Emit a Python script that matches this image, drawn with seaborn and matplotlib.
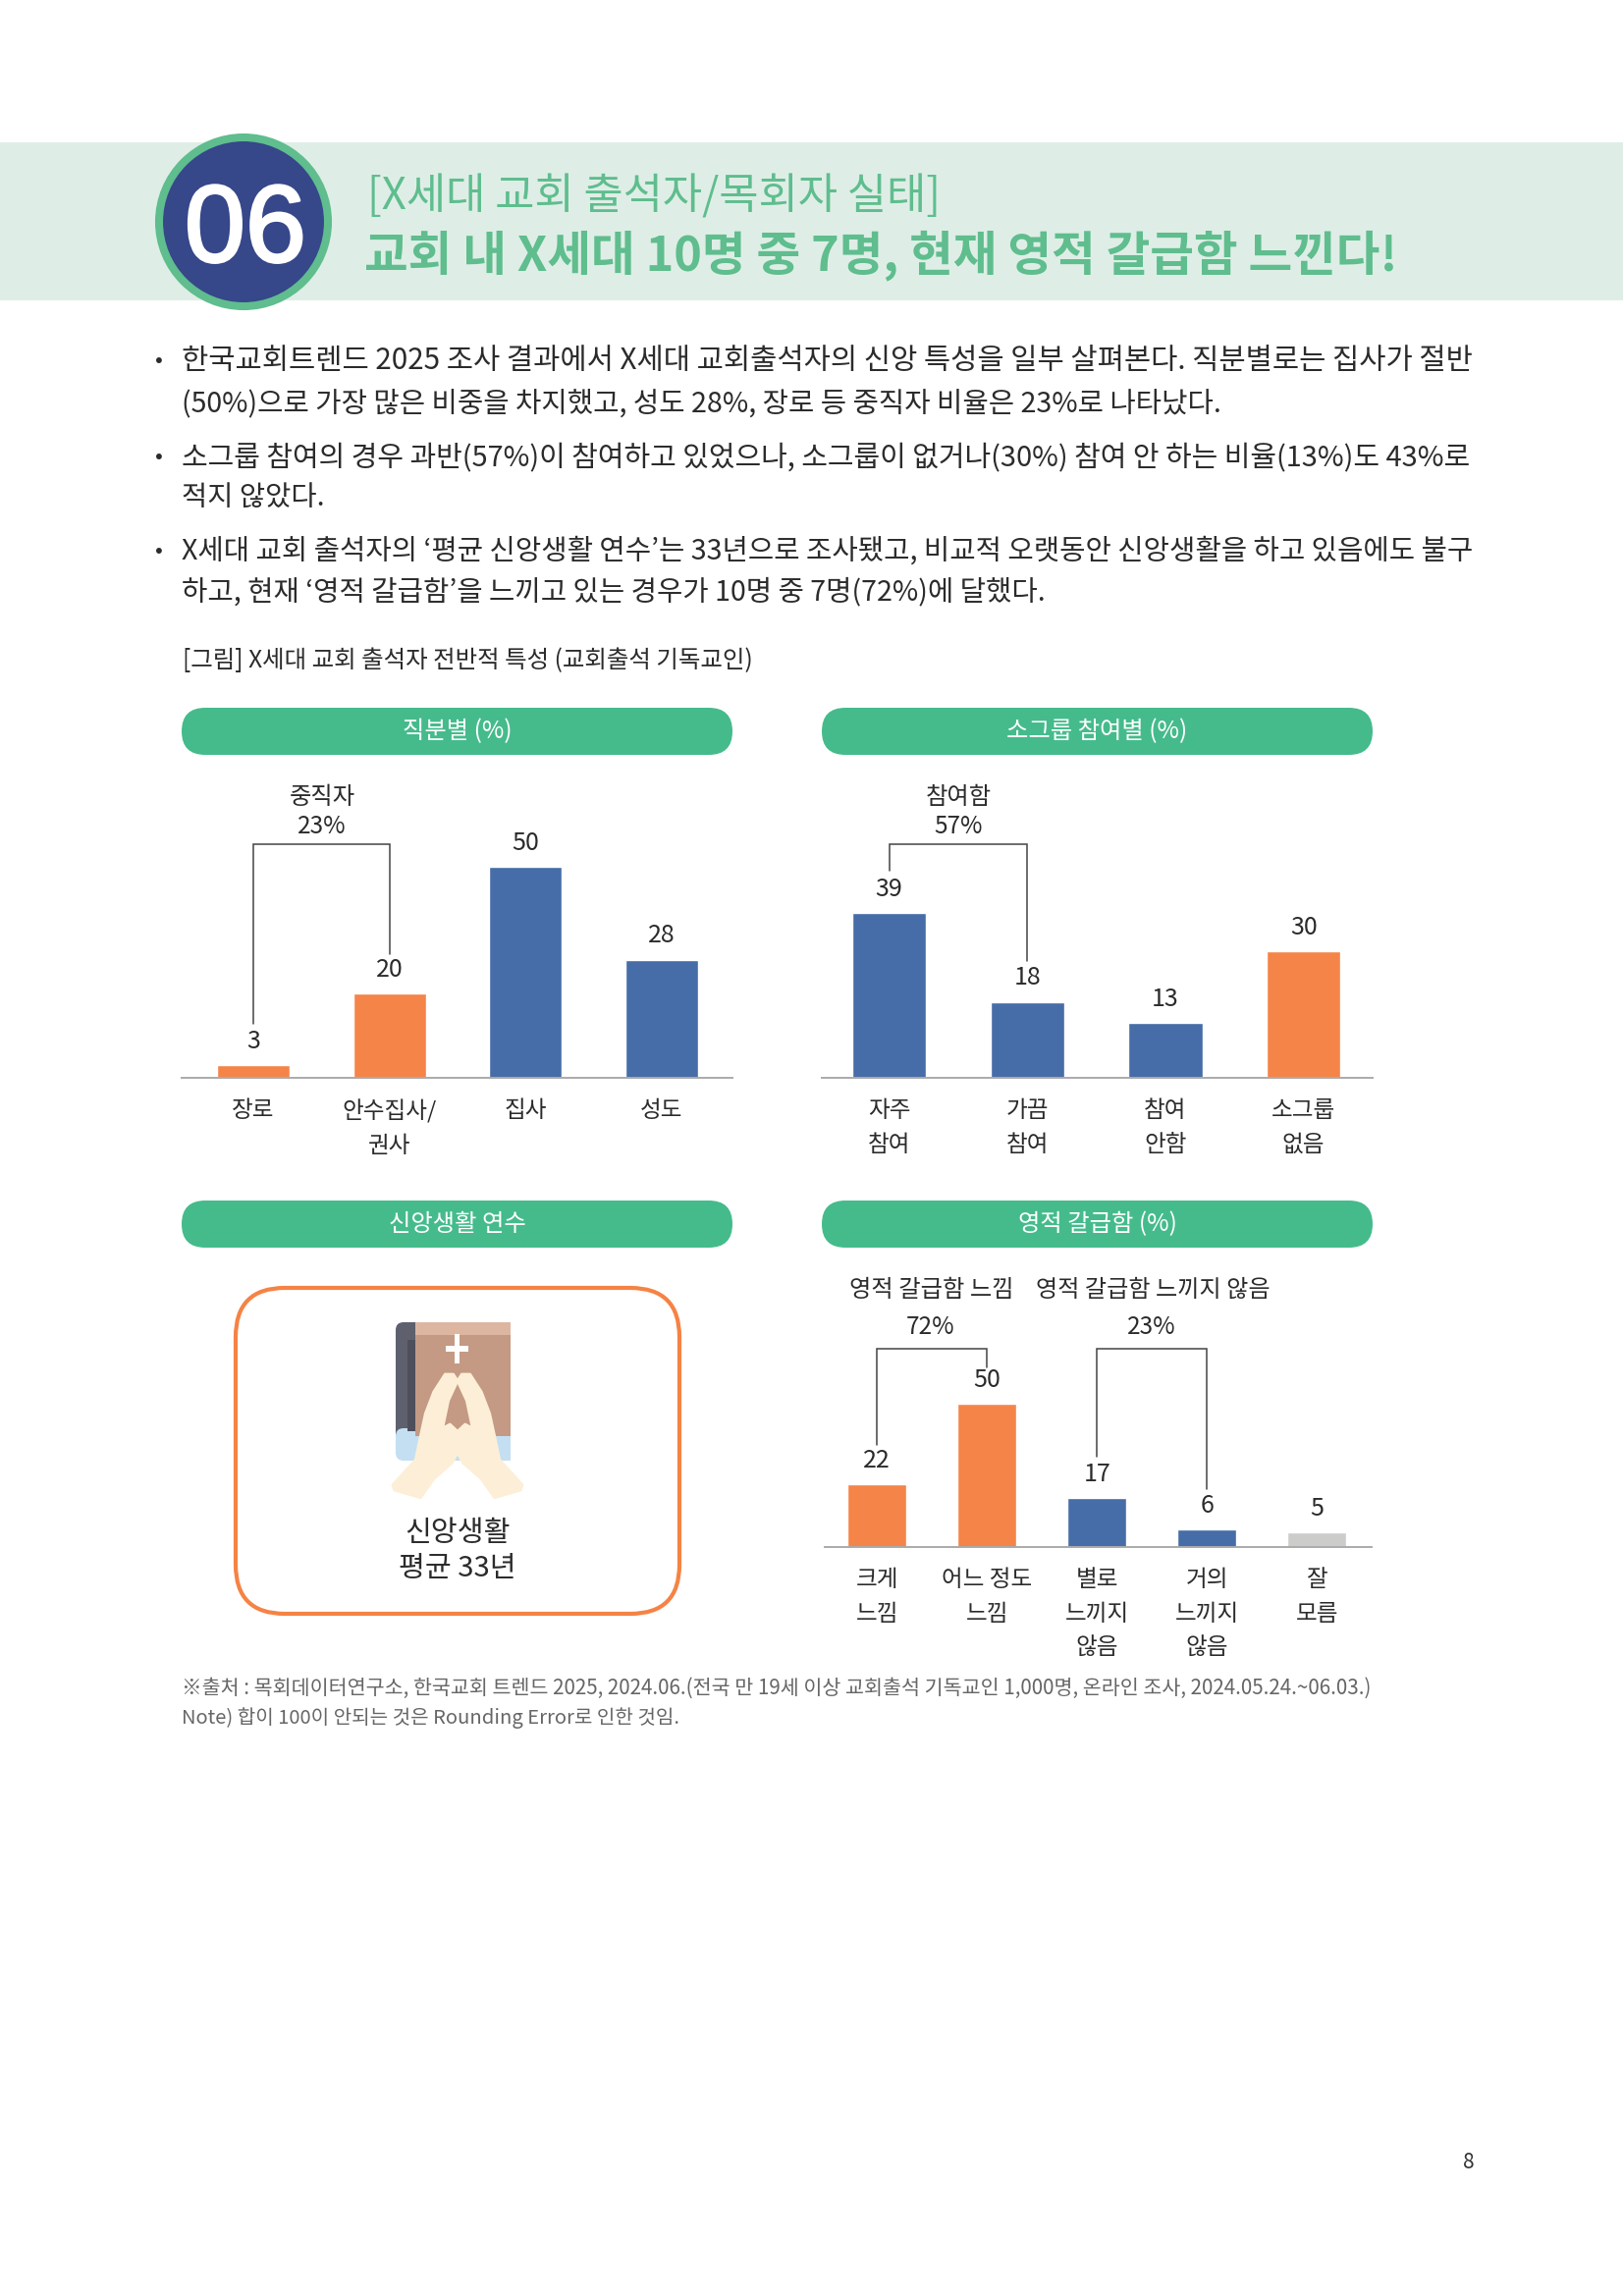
import matplotlib

matplotlib.use("Agg")
import matplotlib.patheffects as pe
import matplotlib.pyplot as plt
import seaborn as sns
from matplotlib.patches import Circle, FancyBboxPatch, Polygon, Rectangle

W, H = 1653, 2339

# ---- data ----
duty_labels = ["장로", "안수집사/\n권사", "집사", "성도"]
duty_values = [3, 20, 50, 28]
duty_colors = ["#F58449", "#F58449", "#466DA7", "#466DA7"]

group_labels = ["자주\n참여", "가끔\n참여", "참여\n안함", "소그룹\n없음"]
group_values = [39, 18, 13, 30]
group_colors = ["#466DA7", "#466DA7", "#466DA7", "#F58449"]

thirst_labels = ["크게\n느낌", "어느 정도\n느낌", "별로\n느끼지\n않음", "거의\n느끼지\n않음", "잘\n모름"]
thirst_values = [22, 50, 17, 6, 5]
thirst_colors = ["#F58449", "#F58449", "#466DA7", "#466DA7", "#CCCCCA"]

body_lines = [
    "한국교회트렌드 2025 조사 결과에서 X세대 교회출석자의 신앙 특성을 일부 살펴본다. 직분별로는 집사가 절반",
    "(50%)으로 가장 많은 비중을 차지했고, 성도 28%, 장로 등 중직자 비율은 23%로 나타났다.",
    "소그룹 참여의 경우 과반(57%)이 참여하고 있었으나, 소그룹이 없거나(30%) 참여 안 하는 비율(13%)도 43%로",
    "적지 않았다.",
    "X세대 교회 출석자의 ‘평균 신앙생활 연수’는 33년으로 조사됐고, 비교적 오랫동안 신앙생활을 하고 있음에도 불구",
    "하고, 현재 ‘영적 갈급함’을 느끼고 있는 경우가 10명 중 7명(72%)에 달했다.",
]
body_right = [1498, 1243, 1498, 330, 1498, 1064]
body_y = [368, 411, 466, 507, 562, 603]

sns.set_theme(style="white")
plt.rcParams["font.family"] = ["Noto Sans CJK KR", "DejaVu Sans"]

INK = "#2B2B2B"
GREEN = "#45BB8C"
HEAD_GREEN = "#5FBD8E"
LINE = "#444444"

fig = plt.figure(figsize=(W / 100, H / 100), dpi=100, facecolor="white")
page = fig.add_axes([0, 0, 1, 1])
page.set_xlim(0, W)
page.set_ylim(H, 0)
page.axis("off")
renderer = fig.canvas.get_renderer()


def fit_text(x0, x1, y, s, **kw):
    # font size is chosen so the line spans x0..x1 like in the page
    t = page.text(x0, y, s, ha="left", va="center", fontsize=20, **kw)
    w = t.get_window_extent(renderer).width
    t.set_fontsize(20 * (x1 - x0) / w)
    return t


def pill(x0, x1, y0, y1, label):
    r = (y1 - y0) / 2
    page.add_patch(FancyBboxPatch((x0 + r, y0 + r), x1 - x0 - 2 * r, 0,
                                  boxstyle=f"round,pad={r},rounding_size={r}",
                                  fc=GREEN, ec="none"))
    page.text((x0 + x1) / 2, (y0 + y1) / 2, label, color="white", fontsize=17.5,
              ha="center", va="center")


def bar_panel(left, right, base_y, px_per_unit, vmax, first_x, step, labels, values, colors, width):
    top = base_y - vmax * px_per_unit
    ax = fig.add_axes([left / W, 1 - base_y / H, (right - left) / W, (base_y - top) / H])
    ax.patch.set_alpha(0)
    sns.barplot(x=labels, y=values, hue=labels, palette=colors, legend=False,
                width=width, saturation=1, ax=ax)
    ax.set_xlim((left - first_x) / step, (right - first_x) / step)
    ax.set_ylim(0, vmax)
    for c in ax.containers:
        ax.bar_label(c, fmt="%d", padding=8, fontsize=18, color=INK)
    sns.despine(ax=ax, left=True)
    ax.spines["bottom"].set_color("#AAAAAA")
    ax.spines["bottom"].set_linewidth(1.4)
    ax.set_yticks([])
    ax.set_xlabel("")
    ax.set_ylabel("")
    ax.tick_params(axis="x", length=0, pad=16, labelsize=17, labelcolor=INK)
    for tick in ax.get_xticklabels():
        tick.set_linespacing(1.64)
    return ax


def bracket(ax, i, j, low_i, low_j, top):
    ax.plot([i, i, j, j], [low_i, top, top, low_j], color=LINE, lw=1.1,
            clip_on=False, solid_joinstyle="miter")


# ---- header band ----
page.add_patch(Rectangle((0, 145), W, 161, fc="#DEEEE6", ec="none"))
page.add_patch(Circle((248, 226), 86, fc="#36478A", ec=HEAD_GREEN, lw=5.8))
t06 = page.text(250, 226, "06", color="white", family="Liberation Sans", fontsize=86,
                ha="center", va="center_baseline",
                path_effects=[pe.withStroke(linewidth=2, foreground="white")])
fit_text(374, 958, 201, "[X세대 교회 출석자/목회자 실태]", color=HEAD_GREEN)
fit_text(371, 1422, 260, "교회 내 X세대 10명 중 7명, 현재 영적 갈급함 느낀다!",
         color=HEAD_GREEN, fontweight="bold")

# ---- body text ----
for by in (368, 466, 562):
    page.text(162, by, "•", color=INK, fontsize=17, ha="center", va="center")
for line, rx, ly in zip(body_lines, body_right, body_y):
    fit_text(185, rx, ly, line, color=INK)

fit_text(186, 767, 673, "[그림] X세대 교회 출석자 전반적 특성 (교회출석 기독교인)", color=INK)

# ---- panel headers ----
pill(185, 746, 721, 769, "직분별 (%)")
pill(837, 1398, 721, 769, "소그룹 참여별 (%)")
pill(185, 746, 1223, 1271, "신앙생활 연수")
pill(837, 1398, 1223, 1271, "영적 갈급함 (%)")

# ---- duty ----
ax1 = bar_panel(185, 746, 1098, 4.3, 60, 258, 138.6, duty_labels, duty_values, duty_colors, 0.535)
bracket(ax1, 0, 1, 12.8, 29.3, 55.3)
page.text(328, 812, "중직자", color=INK, fontsize=17.5, ha="center", va="center")
page.text(328, 842, "23%", color=INK, fontsize=17.5, ha="center", va="center")

# ---- small group ----
ax2 = bar_panel(837, 1398, 1098, 4.3, 60, 905.6, 140.7, group_labels, group_values, group_colors, 0.535)
bracket(ax2, 0, 1, 49, 27.7, 55.3)
page.text(976, 812, "참여함", color=INK, fontsize=17.5, ha="center", va="center")
page.text(976, 842, "57%", color=INK, fontsize=17.5, ha="center", va="center")

# ---- thirst ----
ax4 = bar_panel(840, 1397, 1576, 2.92, 75, 893.2, 112, thirst_labels, thirst_values, thirst_colors, 0.535)
bracket(ax4, 0, 1, 35.6, 62.7, 69.2)
bracket(ax4, 2, 3, 31.5, 20.1, 69.2)
fit_text(865, 1032, 1314, "영적 갈급함 느낌", color=INK)
fit_text(1055, 1293, 1314, "영적 갈급함 느끼지 않음", color=INK)
page.text(948, 1352, "72%", color=INK, fontsize=17.5, ha="center", va="center")
page.text(1173, 1352, "23%", color=INK, fontsize=17.5, ha="center", va="center")

# ---- years box ----
page.add_patch(FancyBboxPatch((290, 1362), 352, 232,
                              boxstyle="round,pad=50,rounding_size=50",
                              fc="white", ec="#F58345", lw=3))
# book icon
page.add_patch(FancyBboxPatch((411, 1355), 30, 110, boxstyle="round,pad=8,rounding_size=8",
                              fc="#5E606E", ec="none"))
page.add_patch(FancyBboxPatch((411, 1463), 30, 17, boxstyle="round,pad=8,rounding_size=8",
                              fc="#C5DFF2", ec="none"))
page.add_patch(Rectangle((415, 1365), 8, 93, fc="#4E4F5B", ec="none"))
page.add_patch(Rectangle((423, 1347), 97, 116, fc="#C49A84", ec="none"))
page.add_patch(Rectangle((423, 1347), 97, 13, fc="#DDB6A2", ec="none"))
page.add_patch(Rectangle((423, 1463), 97, 25, fc="#C5DFF2", ec="none"))
page.add_patch(Rectangle((454, 1371), 23, 6, fc="white", ec="none"))
page.add_patch(Rectangle((463, 1359), 5, 30, fc="white", ec="none"))

# icon hand outline, traced on the page; the other hand is its mirror image
hand_x = [466, 461.7, 453.3, 441.7, 433.3, 428.3, 423.3, 400, 401.7, 428.3, 441.7, 460.7, 465.7, 465.7, 458.3, 450.7, 456.7]
hand_y = [1406.7, 1400, 1400, 1418, 1440, 1463, 1487, 1512.7, 1518, 1525.7, 1506.7, 1490, 1480, 1458, 1451, 1455, 1426.7]
page.add_patch(Polygon(list(zip(hand_x, hand_y)), fc="#FDEFD7", ec="#FDEFD7", lw=2, joinstyle="round"))
page.add_patch(Polygon([(2 * 466 - x, y) for x, y in zip(hand_x, hand_y)],
                       fc="#FDEFD7", ec="#FDEFD7", lw=2, joinstyle="round"))

page.text(466, 1562, "신앙생활", color=INK, fontsize=21, ha="center", va="center")
page.text(466, 1598, "평균 33년", color=INK, fontsize=21, ha="center", va="center")

# ---- notes ----
fit_text(185, 1396, 1720,
         "※출처 : 목회데이터연구소, 한국교회 트렌드 2025, 2024.06.(전국 만 19세 이상 교회출석 기독교인 1,000명, 온라인 조사, 2024.05.24.~06.03.)",
         color="#666666")
fit_text(185, 692, 1750, "Note) 합이 100이 안되는 것은 Rounding Error로 인한 것임.", color="#666666")
page.text(1496, 2203, "8", color="#333333", fontsize=15, ha="center", va="center")

# fit the big number to its width too
w06 = t06.get_window_extent(renderer).width
t06.set_fontsize(86 * 124 / w06)

fig.savefig("out.png", dpi=100)
